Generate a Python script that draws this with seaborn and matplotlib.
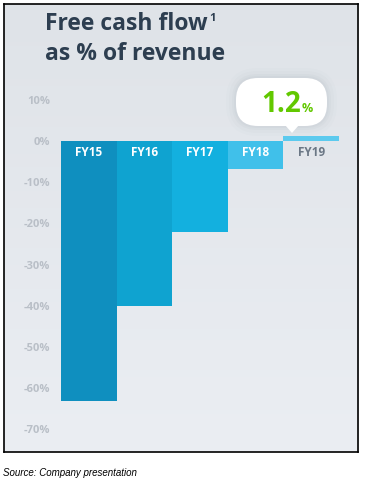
import numpy as np
import pandas as pd
import matplotlib
matplotlib.use("Agg")
import matplotlib.pyplot as plt
import seaborn as sns
from matplotlib.patches import FancyBboxPatch, Polygon

# Données
categories = ['FY15', 'FY16', 'FY17', 'FY18', 'FY19']
fcf_pct = [-63.0, -40.0, -22.0, -6.7, 1.2]
bar_colors = ['#0f8fbf', '#0fa3d0', '#13b0df', '#40c0ea', '#5ccaee']
label_colors = ['white', 'white', 'white', 'white', '#6b7785']
yticks = [10, 0, -10, -20, -30, -40, -50, -60, -70]

df = pd.DataFrame({'annee': categories, 'fcf': fcf_pct})

W, H = 368, 484
fig = plt.figure(figsize=(W / 100, H / 100), dpi=100)
fig.patch.set_facecolor('white')

def fx(px):
    return px / W

def fy(py):
    return 1 - py / H

# Fond dégradé encadré
bg = fig.add_axes([fx(4), fy(452), fx(354), 448 / H])
grad = np.linspace(0, 1, 256).reshape(-1, 1)
top = np.array([223, 227, 232]) / 255
bot = np.array([235, 238, 243]) / 255
img = top + grad[..., None] * (bot - top)
bg.imshow(img, aspect='auto', extent=[0, 1, 0, 1])
bg.set_xticks([])
bg.set_yticks([])
for s in bg.spines.values():
    s.set_color('black')
    s.set_linewidth(1.2)

# Graphique principal
ax = fig.add_axes([fx(61), fy(439.7), fx(278), 350.2 / H])
ax.patch.set_alpha(0)
sns.barplot(data=df, x='annee', y='fcf', hue='annee', palette=bar_colors,
            width=1.0, saturation=1, legend=False, ax=ax, zorder=2)
ax.set_xlim(-0.5, 4.5)
ax.set_ylim(-72.5, 12.5)
ax.set_xlabel('')
ax.set_ylabel('')
ax.set_xticks([])
ax.set_yticks(yticks)
ax.set_yticklabels([f'{t}%' for t in yticks], color='#b9bfc7',
                   fontsize=8, fontweight='bold', family='Open Sans')
ax.tick_params(axis='y', length=0, pad=8)
for s in ax.spines.values():
    s.set_visible(False)

for i, (cat, c) in enumerate(zip(categories, label_colors)):
    ax.text(i, -2.9, cat, ha='center', va='center', color=c,
            fontsize=8.5, fontweight='bold', family='Open Sans')

# Titre
fig.text(fx(45), fy(30), 'Free cash flow', fontsize=16.5, fontweight='bold',
         color='#2d3e50', family='Open Sans', va='baseline')
fig.text(fx(209.5), fy(21), '1', fontsize=8, fontweight='bold',
         color='#2d3e50', family='Open Sans', va='baseline')
fig.text(fx(45), fy(60), 'as % of revenue', fontsize=16.5, fontweight='bold',
         color='#2d3e50', family='Open Sans', va='baseline')

# Bulle pour FY19 (avec halo léger)
r = 22 / W
for k, a in [(10, 0.025), (7, 0.035), (4, 0.05), (2, 0.06)]:
    halo = FancyBboxPatch((fx(236 - k), fy(126 + k)), fx(91 + 2 * k), (48 + 2 * k) / H,
                          boxstyle=f'round,pad=0,rounding_size={(22 + k) / W}',
                          mutation_aspect=W / H, transform=fig.transFigure,
                          facecolor='#8a949e', alpha=a, edgecolor='none', zorder=4)
    fig.add_artist(halo)
bubble = FancyBboxPatch((fx(236), fy(126)), fx(327) - fx(236), fy(78) - fy(126),
                        boxstyle=f'round,pad=0,rounding_size={r}',
                        mutation_aspect=W / H, transform=fig.transFigure,
                        facecolor='white', edgecolor='none', zorder=5)
fig.add_artist(bubble)
tip = Polygon([(fx(285), fy(125)), (fx(299), fy(125)), (fx(292), fy(133))],
              closed=True, transform=fig.transFigure, facecolor='white',
              edgecolor='none', zorder=5)
fig.add_artist(tip)
fig.text(fx(301), fy(112), f'{fcf_pct[4]}', fontsize=20, fontweight='bold',
         color='#62c800', family='Open Sans', ha='right', va='baseline', zorder=6)
fig.text(fx(302), fy(112), '%', fontsize=9, fontweight='bold',
         color='#62c800', family='Open Sans', ha='left', va='baseline', zorder=6)

# Source
fig.text(fx(3), fy(476), 'Source: Company presentation', fontsize=7,
         style='italic', color='black', family='Liberation Sans', va='baseline')

plt.savefig('out.png', dpi=100)
plt.close()
